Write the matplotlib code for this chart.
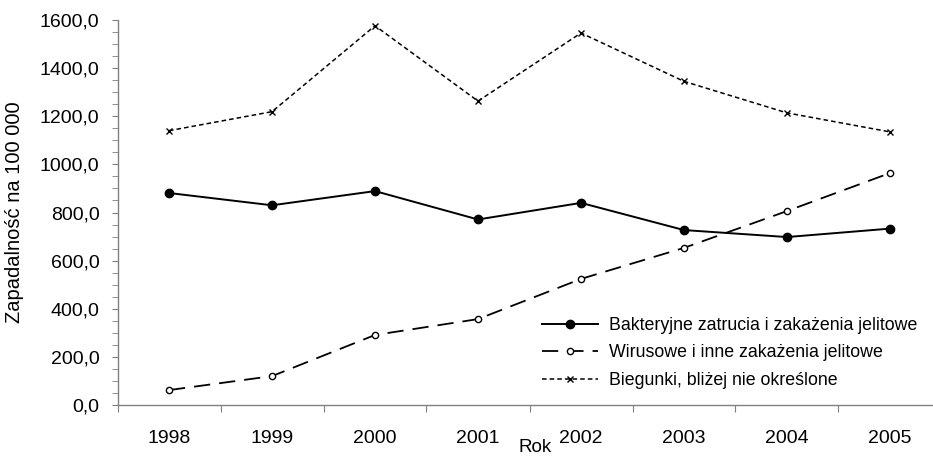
import matplotlib
matplotlib.use('Agg')
import matplotlib.pyplot as plt
from matplotlib.ticker import FuncFormatter, MultipleLocator, FixedLocator

plt.rcParams['font.family'] = ['Liberation Sans', 'DejaVu Sans']

years = ['1998', '1999', '2000', '2001', '2002', '2003', '2004', '2005']
bakteryjne = [881, 830, 889, 771, 840, 727, 698, 733]
wirusowe = [62, 120, 291, 357, 524, 653, 806, 964]
biegunki = [1140, 1219, 1576, 1263, 1546, 1345, 1214, 1135]

labels = ['Bakteryjne zatrucia i zakażenia jelitowe',
          'Wirusowe i inne zakażenia jelitowe',
          'Biegunki, bliżej nie określone']

fig = plt.figure(figsize=(9.33, 4.57), dpi=100)
ax = fig.add_axes([117.5 / 933, 52 / 457, 824 / 933, 385 / 457])

x = list(range(len(years)))
ax.plot(x, bakteryjne, color='black', lw=1.4, marker='o', ms=6,
        label=labels[0])
ax.plot(x, wirusowe, color='black', lw=1.3, dashes=(9, 5), marker='o', ms=4.5,
        mfc='white', mew=1.0, label=labels[1])
ax.plot(x, biegunki, color='black', lw=1.1, dashes=(3, 2), marker='x', ms=5,
        mew=1.0, label=labels[2])

ax.set_xlim(-0.5, len(years) - 0.5)
ax.set_ylim(0, 1600)
ax.xaxis.set_major_locator(FixedLocator([i + 0.5 for i in range(-1, len(years))]))
ax.set_xticklabels([])
ax.xaxis.set_minor_locator(FixedLocator(x))
ax.set_xticklabels(years, minor=True)
ax.tick_params(axis='x', which='minor', length=0, labelsize=14, pad=18)
ax.tick_params(axis='x', which='major', length=5, color='#808080')

ax.yaxis.set_major_locator(MultipleLocator(200))
ax.yaxis.set_minor_locator(MultipleLocator(50))
ax.yaxis.set_major_formatter(FuncFormatter(lambda v, p: f'{v:.1f}'.replace('.', ',')))
ax.tick_params(axis='y', which='major', length=4, color='#808080', labelsize=14, pad=9)
ax.tick_params(axis='y', which='minor', length=4, color='#808080')

for s in ['top', 'right']:
    ax.spines[s].set_visible(False)
for s in ['left', 'bottom']:
    ax.spines[s].set_color('#808080')
    ax.spines[s].set_linewidth(1.0)

ax.set_ylabel('Zapadalność na 100 000', fontsize=14.5)
ax.yaxis.set_label_coords(-(117.5 - 24) / 824, 0.5)
ax.set_xlabel('Rok', fontsize=13.5)
ax.xaxis.set_label_coords((535 - 117.5) / 824, -(439 - 405) / 385)

ax.legend(loc='lower right', bbox_to_anchor=(0.99, 0.0), frameon=False,
          fontsize=12.75, handlelength=3.2, handletextpad=0.6, labelspacing=0.6)

fig.savefig('out.png', dpi=100)
